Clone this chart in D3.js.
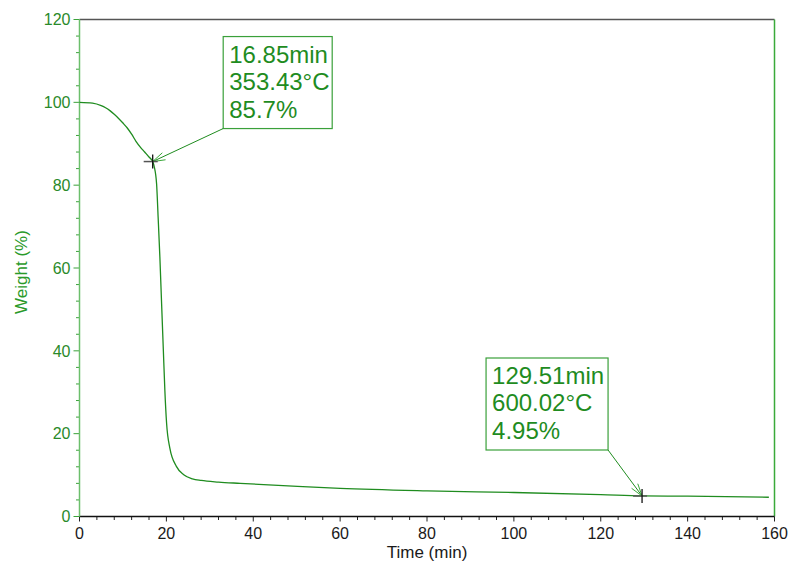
<!DOCTYPE html>
<html>
<head>
<meta charset="utf-8">
<script src="https://cdn.jsdelivr.net/npm/d3@7"></script>
<style>
  body { margin: 0; background: #fff; }
  svg { font-family: "Liberation Sans", Arial, sans-serif; }
</style>
</head>
<body>
<svg id="chart"></svg>
<script>
// TGA curve
var timeMin = [0, 3, 5, 6, 7, 8, 9, 10, 11, 12, 13, 14, 15, 16, 16.85, 17.2, 17.75, 18.1, 18.5, 18.9, 19.3, 19.65, 20.05, 20.8, 22.3, 24, 26, 28, 32, 37, 48, 60, 80, 100, 120, 129.51, 140, 158.7];
var weightPct = [100, 99.8, 99.2, 98.7, 98.0, 97.1, 96.1, 95.0, 93.8, 92.3, 90.6, 89.2, 88.0, 86.8, 85.7, 84.5, 80.3, 72.3, 62.7, 51.4, 40.2, 30.5, 22.5, 16.5, 12.1, 10.1, 9.1, 8.7, 8.3, 8.0, 7.4, 6.8, 6.2, 5.8, 5.3, 5.0, 4.9, 4.65];

var xTicks = [0, 20, 40, 60, 80, 100, 120, 140, 160];
var yTicks = [0, 20, 40, 60, 80, 100, 120];

// annotated points: time, weight, label lines
var marks = [
  {t: 16.85, w: 85.7, lines: ["16.85min", "353.43\u00B0C", "85.7%"]},
  {t: 129.51, w: 4.95, lines: ["129.51min", "600.02\u00B0C", "4.95%"]}
];

var width = 795, height = 567;
var green = "#1f8c1f";

var svg = d3.select("#chart").attr("width", width).attr("height", height);

var x = d3.scaleLinear().domain([0, 160]).range([79.5, 774.5]);
var y = d3.scaleLinear().domain([0, 120]).range([516.5, 19.5]);

// frame: top black, right green
svg.append("line").attr("x1", x(0)).attr("x2", x(160)).attr("y1", y(120)).attr("y2", y(120))
  .attr("stroke", "#555").attr("stroke-width", 1.5);
svg.append("line").attr("x1", x(160)).attr("x2", x(160)).attr("y1", y(120)).attr("y2", y(0))
  .attr("stroke", "#3aaa3a").attr("stroke-width", 1.5);

// minor ticks every 4
var minorX = d3.range(0, 161, 4), minorY = d3.range(0, 121, 4);

var gx = svg.append("g").attr("transform", "translate(0," + y(0) + ")");
gx.selectAll("line.minor").data(minorX).enter().append("line")
  .attr("x1", function(d) { return x(d); }).attr("x2", function(d) { return x(d); })
  .attr("y1", 0).attr("y2", function(d) { return d % 20 === 0 ? 5 : 3.5; })
  .attr("stroke", "#222").attr("stroke-width", 1);
gx.append("line").attr("x1", x(0)).attr("x2", x(160)).attr("stroke", "#111").attr("stroke-width", 1.5);
gx.selectAll("text").data(xTicks).enter().append("text")
  .attr("x", function(d) { return x(d); }).attr("y", 22)
  .attr("text-anchor", "middle").attr("font-size", 16).attr("fill", "#1a1a1a")
  .text(function(d) { return d; });

var gy = svg.append("g").attr("transform", "translate(" + x(0) + ",0)");
gy.selectAll("line.minor").data(minorY).enter().append("line")
  .attr("y1", function(d) { return y(d); }).attr("y2", function(d) { return y(d); })
  .attr("x1", 0).attr("x2", function(d) { return d % 20 === 0 ? -6 : -3.5; })
  .attr("stroke", "#3aa23a").attr("stroke-width", 1);
gy.append("line").attr("y1", y(0)).attr("y2", y(120)).attr("stroke", "#6cbf6c").attr("stroke-width", 1.5);
gy.selectAll("text").data(yTicks).enter().append("text")
  .attr("x", -9).attr("y", function(d) { return y(d); }).attr("dy", "0.36em")
  .attr("text-anchor", "end").attr("font-size", 16).attr("fill", "#2a8a2a")
  .text(function(d) { return d; });

// axis titles
svg.append("text").attr("x", 427).attr("y", 558).attr("text-anchor", "middle")
  .attr("font-size", 17).attr("fill", "#1a1a1a").text("Time (min)");
svg.append("text").attr("transform", "translate(27,272) rotate(-90)").attr("text-anchor", "middle")
  .attr("font-size", 17).attr("fill", "#2a9a2a").text("Weight (%)");

// curve
var pts = timeMin.map(function(t, i) { return [t, weightPct[i]]; });
var line = d3.line().x(function(d) { return x(d[0]); }).y(function(d) { return y(d[1]); })
  .curve(d3.curveMonotoneX);
svg.append("path").datum(pts).attr("d", line)
  .attr("fill", "none").attr("stroke", green).attr("stroke-width", 1.3);

// annotation boxes with arrows
var boxes = [
  {dx: 70.5, dy: -125, w: 109, h: 92, corner: "bl"},
  {dx: -156, dy: -138, w: 122, h: 92, corner: "br"}
];

marks.forEach(function(m, i) {
  var px = x(m.t), py = y(m.w), b = boxes[i];
  var bx = px + b.dx, by = py + b.dy;
  var g = svg.append("g");
  g.append("rect").attr("x", bx).attr("y", by).attr("width", b.w).attr("height", b.h)
    .attr("fill", "#fff").attr("stroke", "#3aa03a").attr("stroke-width", 1.2);
  g.selectAll("text").data(m.lines).enter().append("text")
    .attr("x", bx + 6).attr("y", function(d, k) { return by + 26 + k * 27.5; })
    .attr("font-size", 24).attr("fill", green)
    .text(function(d) { return d; });

  // arrow from box corner to point
  var sx = b.corner === "bl" ? bx : bx + b.w, sy = by + b.h;
  g.append("line").attr("x1", sx).attr("y1", sy).attr("x2", px).attr("y2", py)
    .attr("stroke", green).attr("stroke-width", 1);
  var ang = Math.atan2(sy - py, sx - px), len = 13, spread = 0.3;
  [-spread, spread].forEach(function(s) {
    g.append("line").attr("x1", px).attr("y1", py)
      .attr("x2", px + len * Math.cos(ang + s)).attr("y2", py + len * Math.sin(ang + s))
      .attr("stroke", "#3aa83a").attr("stroke-width", 1);
  });

  // cross marker
  g.append("line").attr("x1", px - 9).attr("x2", px + 5).attr("y1", py).attr("y2", py)
    .attr("stroke", "#555").attr("stroke-width", 1.5);
  g.append("line").attr("x1", px).attr("x2", px).attr("y1", py - 7).attr("y2", py + 7)
    .attr("stroke", "#111").attr("stroke-width", 1.3);
});
</script>
</body>
</html>
